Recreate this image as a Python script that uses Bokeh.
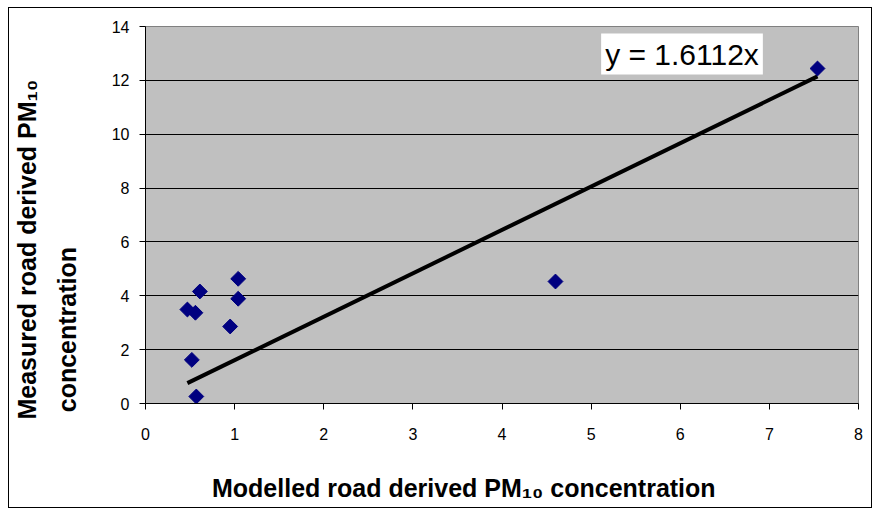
import numpy as np
from bokeh.plotting import figure
from bokeh.models import Label, FixedTicker, ColumnDataSource, LinearAxis
from bokeh.embed import file_html
from bokeh.resources import INLINE

# Data
modelled = [0.47, 0.56, 0.61, 0.52, 0.57, 0.95, 1.04, 1.04, 4.60, 7.54]
measured = [3.49, 3.37, 4.16, 1.62, 0.26, 2.86, 4.63, 3.89, 4.53, 12.44]
slope = 1.6112
x_ticks = [0, 1, 2, 3, 4, 5, 6, 7, 8]
y_ticks = [0, 2, 4, 6, 8, 10, 12, 14]
x_title = "Modelled road derived PM\u2081\u2080 concentration"
y_title1 = "Measured road derived PM\u2081\u2080"
y_title2 = "concentration"
equation = "y = 1.6112x"

NBSP = "\u00a0"

W, H = 864, 501
p = figure(width=W, height=H, output_backend="svg", toolbar_location=None,
           x_range=(0, 8), y_range=(0, 14),
           min_border_left=136, min_border_right=15, min_border_top=18, min_border_bottom=106)
p.styles = {"border": "1px solid black", "margin-left": "8px", "margin-top": "7px"}
p.background_fill_color = "#C0C0C0"
p.border_fill_color = "white"
p.outline_line_color = "#808080"
p.outline_line_width = 1

p.xgrid.grid_line_color = None
p.ygrid.grid_line_color = "black"
p.ygrid.grid_line_width = 1

p.xaxis.ticker = FixedTicker(ticks=x_ticks)
p.yaxis.ticker = FixedTicker(ticks=y_ticks)
for ax in (p.xaxis[0], p.yaxis[0]):
    ax.axis_line_color = "black"
    ax.major_tick_line_color = "black"
    ax.major_tick_in = 0
    ax.major_tick_out = 6
    ax.minor_tick_line_color = None
    ax.major_label_text_font = "Liberation Sans"
    ax.major_label_text_font_size = "16px"
    ax.major_label_text_color = "black"
p.xaxis.major_label_standoff = 18
p.yaxis.major_label_standoff = 10

# trend line
xs_line = [min(modelled), max(modelled)]
ys_line = [slope * v for v in xs_line]
p.line(xs_line, ys_line, line_color="black", line_width=4)

src = ColumnDataSource(dict(x=modelled, y=measured))
p.scatter("x", "y", source=src, marker="square", angle=np.pi / 4, size=10.5,
          fill_color="#000080", line_color="#000080")

# equation label (screen units relative to the frame)
p.add_layout(Label(x=536.5, y=349.5, x_units="screen", y_units="screen",
                   text=equation, text_font="Liberation Sans", text_font_size="30px",
                   text_align="center", text_baseline="middle", text_color="black",
                   background_fill_color="white", padding=4))


def title_axis(label, pad, standoff):
    # trailing no-break spaces shift the (frame-centred) title towards its start
    return LinearAxis(ticker=FixedTicker(ticks=[]), axis_label=label + NBSP * pad,
                      axis_label_standoff=standoff, axis_line_color=None,
                      major_tick_line_color=None, minor_tick_line_color=None,
                      major_tick_in=0, major_tick_out=0, minor_tick_in=0, minor_tick_out=0,
                      major_label_standoff=0,
                      axis_label_text_font="Liberation Sans", axis_label_text_font_style="bold",
                      axis_label_text_font_size="25px", axis_label_text_color="black")


p.add_layout(title_axis(x_title, 11, 31), "below")
p.add_layout(title_axis(y_title2, 33, 28), "left")
p.add_layout(title_axis(y_title1, 10, 9), "left")

open("out.html", "w").write(file_html(p, INLINE))
